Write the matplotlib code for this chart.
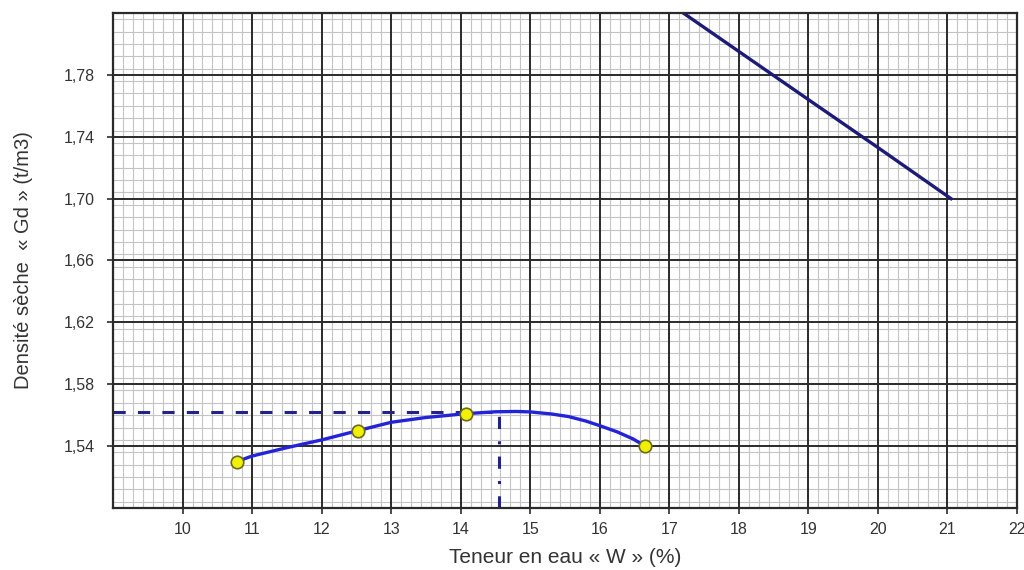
import matplotlib.pyplot as plt
from matplotlib.ticker import MultipleLocator, FuncFormatter

plt.rcParams['font.family'] = ['Liberation Sans', 'DejaVu Sans']

# essais Proctor (points mesures)
w_points = [10.78, 12.52, 14.08, 16.65]
gd_points = [1.530, 1.550, 1.561, 1.540]

# courbe lissee
w_curve = [10.78, 11.0, 11.5, 12.0, 12.52, 13.0, 13.5, 14.08, 14.5, 14.8, 15.0,
           15.3, 15.55, 15.8, 16.0, 16.25, 16.48, 16.65]
gd_curve = [1.530, 1.5336, 1.539, 1.544, 1.550, 1.5554, 1.5585, 1.561, 1.5622, 1.5624, 1.5621,
            1.5608, 1.5591, 1.5562, 1.5532, 1.5492, 1.5446, 1.540]

# courbe de saturation
w_sat = [17.2, 19.0, 20.0, 21.05]
gd_sat = [1.820, 1.764, 1.733, 1.700]

# optimum
w_opt = 14.55
gd_opt = 1.5622

x_ticks = list(range(10, 23))
y_ticks = [1.54, 1.58, 1.62, 1.66, 1.70, 1.74, 1.78]


def plot_proctor(ofilename):
    fig = plt.figure(figsize=(10.24, 5.70), dpi=100)
    ax = fig.add_axes([0.1104, 0.1088, 0.8828, 0.8684])
    ax.set_xlim(9, 22)
    ax.set_ylim(1.50, 1.82)

    # grille millimetree : fine en dessous, grosse par-dessus
    ax.xaxis.set_minor_locator(MultipleLocator(1 / 7))
    ax.yaxis.set_minor_locator(MultipleLocator(0.008))
    ax.grid(which='minor', color='#c4c4c4', lw=0.8)
    ax.set_axisbelow(True)
    for xv in x_ticks:
        ax.axvline(xv, color='#2a2a2a', lw=1.4, zorder=1)
    for yv in y_ticks:
        ax.axhline(yv, color='#2a2a2a', lw=1.4, zorder=1)

    ax.set_xticks(x_ticks)
    ax.set_yticks(y_ticks)
    ax.xaxis.set_major_formatter(FuncFormatter(lambda v, p: '%d' % v))
    ax.yaxis.set_major_formatter(FuncFormatter(lambda v, p: ('%.2f' % v).replace('.', ',')))
    ax.tick_params(which='major', length=4, width=1.2, color='#2a2a2a',
                   labelsize=11.5, labelcolor='#333333', pad=6)
    ax.tick_params(axis='y', pad=9)
    ax.tick_params(which='minor', length=0)
    for s in ax.spines.values():
        s.set_color('#2a2a2a')
        s.set_linewidth(1.6)

    ax.plot([9, w_opt], [gd_opt, gd_opt], color='#22228a', lw=2.2, dashes=(4, 4))
    ax.plot([w_opt, w_opt], [1.50, gd_opt], color='#22228a', lw=2.2, dashes=(4, 4, 1, 4))
    ax.plot(w_sat, gd_sat, color='#1c1c78', lw=2.4)
    ax.plot(w_curve, gd_curve, color='#2323d8', lw=2.4)
    ax.plot(w_points, gd_points, 'o', ms=9, mfc='#f0f000', mec='#6b6b20', mew=1.2)

    ax.set_xlabel('Teneur en eau « W » (%)', fontsize=15, color='#333333', labelpad=8)
    ax.set_ylabel('Densité sèche  « Gd » (t/m3)', fontsize=14.5, color='#333333', labelpad=22)

    plt.savefig(ofilename, dpi=100)


if __name__ == '__main__':
    plot_proctor('out.png')
